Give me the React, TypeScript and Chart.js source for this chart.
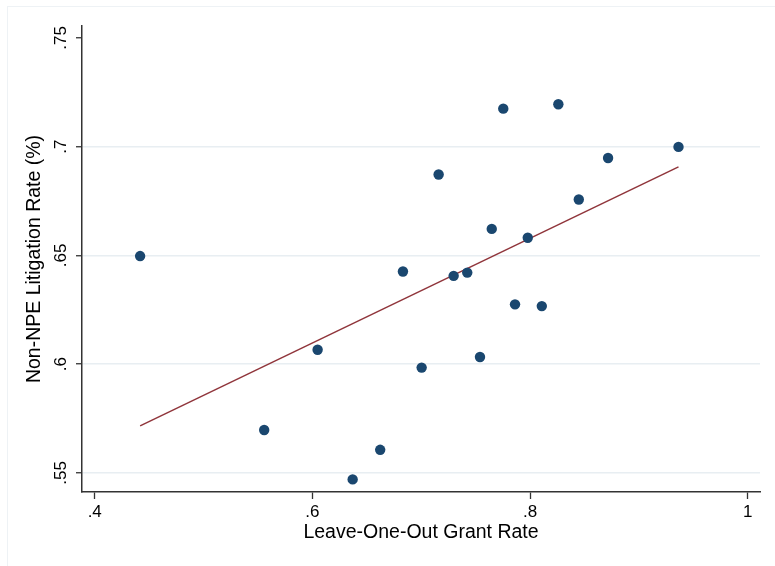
import React, { useEffect, useRef } from "react";
import { Chart, registerables } from "chart.js";

Chart.register(...registerables);

// Leave-one-out grant rate (x) vs non-NPE litigation rate (y)
const grantRate = [
  0.4417, 0.5557, 0.6048, 0.637, 0.6623, 0.6832, 0.7004, 0.716, 0.7298, 0.7423,
  0.754, 0.7648, 0.7754, 0.7862, 0.7979, 0.8108, 0.826, 0.8448, 0.8717, 0.9364,
];
const litigationRate = [
  0.6497, 0.5697, 0.6066, 0.547, 0.5606, 0.6426, 0.5984, 0.6872, 0.6406, 0.6421,
  0.6033, 0.6622, 0.7175, 0.6275, 0.6581, 0.6267, 0.7195, 0.6757, 0.6948, 0.6999,
];
// fitted line endpoints
const fitX = [0.4417, 0.9364];
const fitY = [0.5716, 0.6907];

const xTicks = [0.4, 0.6, 0.8, 1];
const yTicks = [0.55, 0.6, 0.65, 0.7, 0.75];
const xRange = [0.3883, 1.0113];
const yRange = [0.5412, 0.7555];

const xTitle = "Leave-One-Out Grant Rate";
const yTitle = "Non-NPE Litigation Rate (%)";

const FONT = "'Liberation Sans', Arial, sans-serif";
const fmt = (v: number) => String(+Number(v).toFixed(2)).replace(/^0\./, ".");

export default function App() {
  const ref = useRef<HTMLCanvasElement | null>(null);
  useEffect(() => {
    if (!ref.current) return;
    const chart = new Chart(ref.current, {
      type: "scatter",
      data: {
        datasets: [
          {
            label: "points",
            data: grantRate.map((x, i) => ({ x, y: litigationRate[i] })),
            backgroundColor: "#1a476f",
            borderWidth: 0,
            pointRadius: 5.2,
            showLine: false,
          },
          {
            label: "fit",
            data: fitX.map((x, i) => ({ x, y: fitY[i] })),
            borderColor: "#90353b",
            borderWidth: 1.5,
            pointRadius: 0,
            showLine: true,
            fill: false,
          },
        ],
      },
      options: {
        animation: false,
        responsive: false,
        events: [],
        layout: { padding: { top: 26, right: 15, left: 0, bottom: 0 } },
        plugins: { legend: { display: false }, tooltip: { enabled: false } },
        scales: {
          x: {
            type: "linear",
            min: xRange[0],
            max: xRange[1],
            afterBuildTicks: (s: any) => {
              s.ticks = xTicks.map((v) => ({ value: v }));
            },
            afterFit: (s: any) => {
              s.height = 74;
            },
            grid: {
              drawOnChartArea: false,
              drawTicks: true,
              tickLength: 7,
              tickColor: "#333333",
              tickWidth: 1.3,
            },
            border: { display: true, color: "#333333", width: 1.5 },
            ticks: {
              callback: (v: any) => fmt(v),
              color: "#000000",
              font: { family: FONT, size: 17 },
              padding: 3,
              maxRotation: 0,
              minRotation: 0,
            },
            title: {
              display: true,
              text: xTitle,
              color: "#000000",
              font: { family: FONT, size: 19.5, lineHeight: 1 },
              padding: { top: 0, bottom: 24 },
            },
          },
          y: {
            type: "linear",
            min: yRange[0],
            max: yRange[1],
            afterBuildTicks: (s: any) => {
              s.ticks = yTicks.map((v) => ({ value: v }));
            },
            afterFit: (s: any) => {
              s.width = 82;
            },
            grid: {
              drawOnChartArea: true,
              drawTicks: true,
              tickLength: 6,
              color: (c: any) =>
                c.tick && c.tick.value > 0.745 ? "rgba(0,0,0,0)" : "#e8eef2",
              lineWidth: 1.5,
              tickColor: "#333333",
              tickWidth: 1.3,
            },
            border: { display: true, color: "#333333", width: 1.5 },
            ticks: {
              callback: (v: any) => fmt(v),
              color: "#000000",
              font: { family: FONT, size: 17 },
              padding: 3,
              minRotation: 90,
              maxRotation: 90,
              crossAlign: "center",
            },
            title: {
              display: true,
              text: yTitle,
              color: "#000000",
              font: { family: FONT, size: 19.5, lineHeight: 1 },
              padding: { top: 25, bottom: 0 },
            },
          },
        },
      },
    } as any);
    return () => chart.destroy();
  }, []);

  return (
    <div
      style={{
        position: "absolute",
        left: 0,
        top: 0,
        width: 775,
        height: 566,
        overflow: "hidden",
        background: "#ffffff",
      }}
    >
      <div
        style={{
          position: "absolute",
          left: 7,
          top: 6,
          width: 900,
          height: 700,
          borderTop: "1px solid #eef2f5",
          borderLeft: "1px solid #eef2f5",
        }}
      />
      <canvas
        ref={ref}
        width={775}
        height={566}
        style={{ position: "absolute", left: 0, top: 0, width: 775, height: 566 }}
      />
    </div>
  );
}
